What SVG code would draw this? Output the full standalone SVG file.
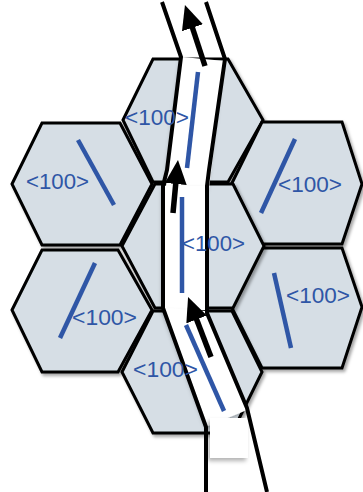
<svg xmlns="http://www.w3.org/2000/svg" width="363" height="492" viewBox="0 0 363 492">
<defs>
<filter id="sh" x="-20%" y="-20%" width="140%" height="140%">
<feDropShadow dx="2" dy="2.5" stdDeviation="1.5" flood-color="#000" flood-opacity="0.35"/>
</filter>
<filter id="sh2" x="-30%" y="-30%" width="160%" height="160%">
<feDropShadow dx="-2" dy="3" stdDeviation="2" flood-color="#000" flood-opacity="0.3"/>
</filter>
<marker id="ah" markerUnits="userSpaceOnUse" markerWidth="24" markerHeight="22" viewBox="0 0 24 22" refX="4" refY="11" orient="auto">
<path d="M0,0 L24,11 L0,22 z" fill="#000"/>
</marker>
</defs>
<style>
.hex{fill:#D6DEE5;stroke:#000;stroke-width:3;stroke-linejoin:miter;filter:url(#sh)}
.lbl{font-family:"Liberation Sans",Arial,sans-serif;font-size:22px;fill:#2F56A6}
.dir{stroke:#2F56A6;stroke-width:4.5;fill:none}
.strip{fill:#fff;filter:url(#sh2)}
.bd{fill:none;stroke:#000;stroke-width:4;stroke-linejoin:miter}
.arr{stroke:#000;stroke-width:5.5;fill:none;marker-end:url(#ah)}
</style>
<rect width="363" height="492" fill="#fff"/>
<g id="hex-top"><polygon class="hex" points="123,120 153,59 228,59 263,120 228,182 153,182"/></g>
<g id="hex-left-upper"><polygon class="hex" points="12,184 42,123 120,123 152,184 120,245 42,245"/></g>
<g id="hex-left-lower"><polygon class="hex" points="12,310 42,250 118,250 152,310 118,372 42,372"/></g>
<g id="hex-right-upper"><polygon class="hex" points="232,183 262,122 342,122 362,184 342,244 262,244"/></g>
<g id="hex-right-lower"><polygon class="hex" points="232,308 262,248 342,248 362,307 342,368 262,368"/></g>
<g id="hex-middle"><polygon class="hex" points="122,246 155,184 233,184 264,246 233,308 155,308"/></g>
<g id="hex-bottom"><polygon class="hex" points="122,372 153,311 232,311 262,372 232,433 153,433"/></g>
<g id="channel">
<polygon class="strip" points="182,57 225,61 209,188 166,186"/>
<rect class="strip" x="164" y="186" width="43" height="124"/>
<polygon class="strip" points="164,308 206,311 247,410 208,426"/>
<rect class="strip" x="210" y="418" width="38" height="40"/>
<polyline class="bd" points="162,2 181,57 167,170 163,186 163,308 206,427 206,492"/>
<polyline class="bd" points="206,2 225,59 209,170 207,186 207,313 247,408 267,492"/>
</g>
<g id="labels">
<line class="dir" x1="198" y1="72" x2="187" y2="168"/>
<line class="dir" x1="182" y1="197" x2="182" y2="293"/>
<line class="dir" x1="186" y1="325" x2="224" y2="411"/>
<line class="dir" x1="78" y1="140" x2="114" y2="205"/>
<line class="dir" x1="95" y1="263" x2="60" y2="338"/>
<line class="dir" x1="295" y1="139" x2="261" y2="213"/>
<line class="dir" x1="274" y1="273" x2="291" y2="348"/>
<text class="lbl" x="125" y="125" textLength="64" lengthAdjust="spacingAndGlyphs">&lt;100&gt;</text>
<text class="lbl" x="26" y="189" textLength="63" lengthAdjust="spacingAndGlyphs">&lt;100&gt;</text>
<text class="lbl" x="278" y="192" textLength="64" lengthAdjust="spacingAndGlyphs">&lt;100&gt;</text>
<text class="lbl" x="182" y="251" textLength="63" lengthAdjust="spacingAndGlyphs">&lt;100&gt;</text>
<text class="lbl" x="72" y="325" textLength="65" lengthAdjust="spacingAndGlyphs">&lt;100&gt;</text>
<text class="lbl" x="286" y="303" textLength="64" lengthAdjust="spacingAndGlyphs">&lt;100&gt;</text>
<text class="lbl" x="133" y="377" textLength="65" lengthAdjust="spacingAndGlyphs">&lt;100&gt;</text>
</g>
<g id="connectors">
<line class="arr" x1="205" y1="66" x2="191.2" y2="24"/>
<line class="arr" x1="173" y1="213" x2="176.1" y2="180"/>
<line class="arr" x1="211" y1="357" x2="195.2" y2="315.7"/>
</g>
</svg>
